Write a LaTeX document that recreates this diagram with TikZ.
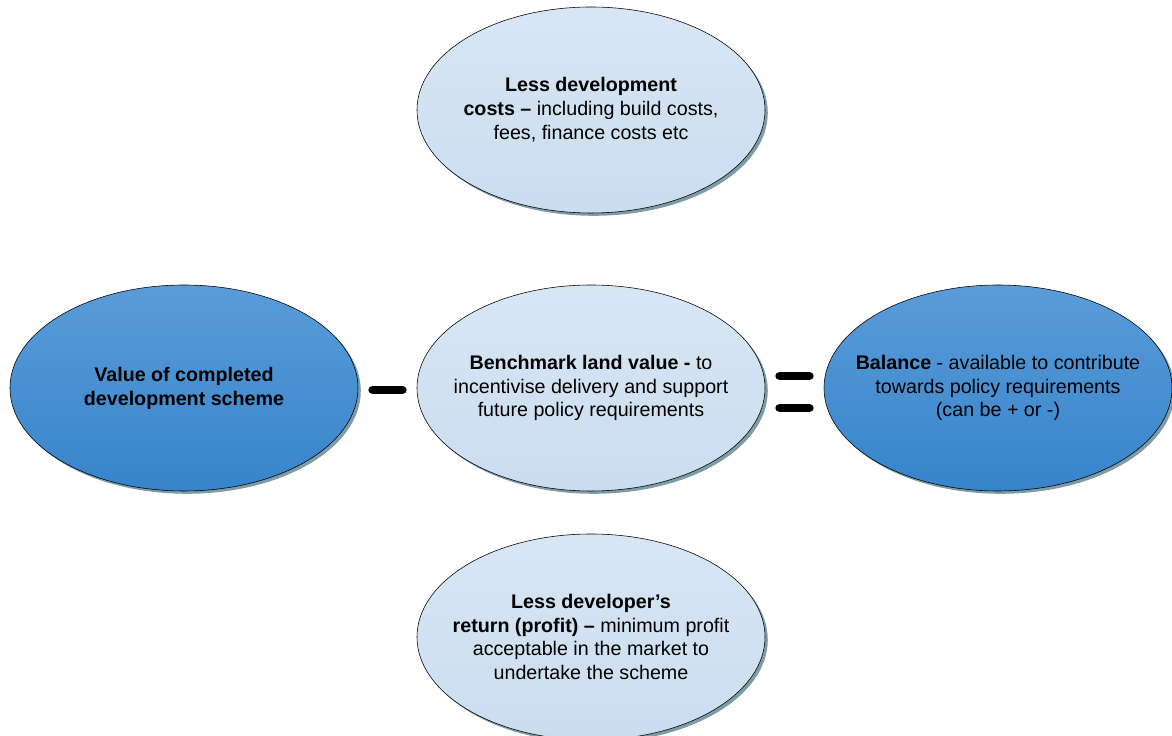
\documentclass[tikz,border=0pt]{standalone}
\usepackage{fontspec}
\setmainfont{Liberation Sans}
\usetikzlibrary{positioning}
\usetikzlibrary{shapes}
\usetikzlibrary{shadows}
\usetikzlibrary{calc}
\definecolor{paletop}{HTML}{D8E6F4}
\definecolor{palebottom}{HTML}{CADDEF}
\definecolor{deeptop}{HTML}{5A9CD8}
\definecolor{deepbottom}{HTML}{3784CB}
\definecolor{shadowgrey}{HTML}{7E9CA6}

\begin{document}
\begin{tikzpicture}[on grid, node distance=10.175cm,
    blob/.style={ellipse, draw, thin, minimum width=8.7cm, minimum height=5.15cm,
      inner sep=-0.5cm, align=center, font=\fontsize{14}{17}\selectfont,
      drop shadow={shadow xshift=0.07cm, shadow yshift=-0.07cm, fill=shadowgrey, opacity=1}},
    pale/.style={blob, top color=paletop, bottom color=palebottom},
    deep/.style={blob, top color=deeptop, bottom color=deepbottom},
    sign/.style={line width=0.22cm, line cap=round}]
  \useasboundingbox (-14.775,-8.7) rectangle (14.525,9.7);
  \node[pale]  (bench)            {\textbf{Benchmark land value -} to\\ incentivise delivery and support\\ future policy requirements};
  \node[deep]  (value)   [left=of bench]  {\textbf{Value of completed}\\ \textbf{development scheme}};
  \node[deep]  (balance) [right=of bench] {\textbf{Balance} - available to contribute\\ towards policy requirements\\ (can be + or -)};
  \node[pale]  (costs)   [above=6.95cm of bench]  {\textbf{Less development}\\ \textbf{costs –} including build costs,\\ fees, finance costs etc};
  \node[pale]  (profit)  [below=6.225cm of bench] {\textbf{Less developer’s}\\ \textbf{return (profit) –} minimum profit\\ acceptable in the market to\\ undertake the scheme};
  % minus and equals signs
  \coordinate (minus) at ($(value.east)!0.5!(bench.west)$);
  \coordinate (equals) at ($(bench.east)!0.5!(balance.west)$);
  \draw[sign] ([xshift=-0.37cm, yshift=-0.05cm]minus) -- ([xshift=0.37cm, yshift=-0.05cm]minus);
  \draw[sign] ([xshift=-0.37cm, yshift=0.3cm]equals) -- ([xshift=0.37cm, yshift=0.3cm]equals);
  \draw[sign] ([xshift=-0.37cm, yshift=-0.5cm]equals) -- ([xshift=0.37cm, yshift=-0.5cm]equals);
\end{tikzpicture}
\end{document}
